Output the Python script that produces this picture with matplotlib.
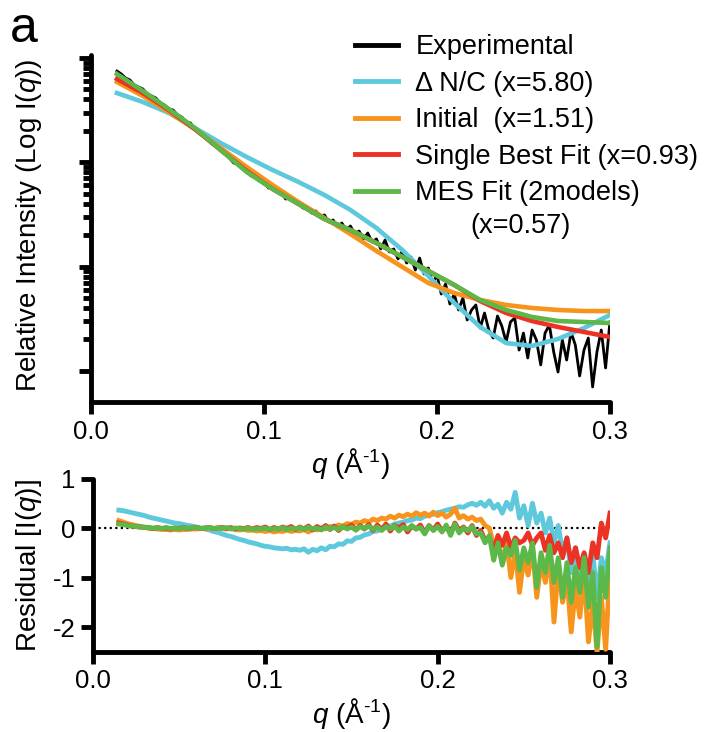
import numpy as np
import matplotlib
matplotlib.use("Agg")
import matplotlib.pyplot as plt
from matplotlib.ticker import FixedLocator, NullFormatter
from matplotlib.lines import Line2D

plt.rcParams['font.family'] = ['Liberation Sans', 'DejaVu Sans']
plt.rcParams['mathtext.fontset'] = 'custom'
plt.rcParams['mathtext.rm'] = 'Liberation Sans'
plt.rcParams['mathtext.it'] = 'Liberation Sans:italic'

# ---------------- data ----------------
# smooth model curves (log10 relative intensity)
q_fit = np.linspace(0.015, 0.3, 20)
log_nc = [-0.336, -0.422, -0.527, -0.671, -0.815, -0.949, -1.074, -1.189, -1.314, -1.457,
          -1.630, -1.841, -2.090, -2.349, -2.579, -2.733, -2.761, -2.694, -2.589, -2.464]
log_initial = [-0.230, -0.364, -0.518, -0.681, -0.863, -1.045, -1.218, -1.381, -1.534, -1.688,
               -1.850, -2.004, -2.157, -2.253, -2.320, -2.368, -2.397, -2.416, -2.426, -2.426]
log_single = [-0.201, -0.336, -0.499, -0.681, -0.882, -1.083, -1.256, -1.400, -1.544, -1.649,
              -1.774, -1.908, -2.042, -2.176, -2.330, -2.445, -2.522, -2.579, -2.627, -2.675]
log_mes = [-0.153, -0.316, -0.489, -0.671, -0.882, -1.093, -1.256, -1.400, -1.544, -1.649,
           -1.774, -1.908, -2.042, -2.176, -2.320, -2.416, -2.483, -2.522, -2.531, -2.541]

# experimental curve (log10 relative intensity)
q_exp = np.linspace(0.015, 0.3, 115)
log_exp = [-0.125, -0.153, -0.192, -0.211, -0.259, -0.278, -0.297, -0.345, -0.364, -0.384,
           -0.431, -0.451, -0.489, -0.499, -0.547, -0.566, -0.614, -0.623, -0.681, -0.700,
           -0.748, -0.767, -0.825, -0.844, -0.892, -0.901, -0.959, -1.007, -1.007, -1.064,
           -1.074, -1.131, -1.141, -1.179, -1.189, -1.246, -1.246, -1.285, -1.285, -1.352,
           -1.342, -1.381, -1.381, -1.438, -1.438, -1.486, -1.467, -1.515, -1.505, -1.572,
           -1.553, -1.620, -1.582, -1.649, -1.611, -1.688, -1.659, -1.735, -1.678, -1.764,
           -1.735, -1.831, -1.745, -1.860, -1.831, -1.927, -1.850, -1.966, -1.908, -2.033,
           -1.918, -2.071, -2.013, -2.157, -2.081, -2.263, -2.167, -2.359, -2.263, -2.416,
           -2.301, -2.512, -2.416, -2.368, -2.589, -2.445, -2.608, -2.685, -2.474, -2.570,
           -2.723, -2.531, -2.493, -2.800, -2.637, -2.876, -2.608, -2.704, -2.943, -2.637,
           -2.560, -2.819, -3.011, -2.704, -2.896, -2.627, -2.752, -3.049, -2.800, -2.685,
           -3.154, -2.819, -2.608, -2.972, -2.531]

# residuals
res_nc = [0.36, 0.35, 0.33, 0.31, 0.29, 0.27, 0.25, 0.22, 0.20, 0.18,
          0.16, 0.14, 0.12, 0.10, 0.09, 0.07, 0.05, 0.04, 0.02, 0.00,
          -0.02, -0.04, -0.07, -0.09, -0.12, -0.15, -0.17, -0.20, -0.23, -0.25,
          -0.28, -0.30, -0.32, -0.35, -0.37, -0.38, -0.40, -0.41, -0.42, -0.41,
          -0.44, -0.43, -0.45, -0.42, -0.49, -0.43, -0.46, -0.40, -0.44, -0.37,
          -0.38, -0.32, -0.33, -0.26, -0.27, -0.20, -0.19, -0.14, -0.12, -0.07,
          -0.06, -0.01, 0.02, 0.04, 0.08, 0.10, 0.12, 0.15, 0.16, 0.20,
          0.19, 0.24, 0.26, 0.28, 0.31, 0.33, 0.36, 0.38, 0.40, 0.43,
          0.42, 0.47, 0.50, 0.46, 0.52, 0.44, 0.55, 0.40, 0.48, 0.30,
          0.52, 0.38, 0.72, 0.20, 0.45, 0.05, 0.50, 0.10, 0.30, -0.10,
          0.20, -0.30, 0.05, -0.50, -0.20, -0.90, -0.40, -1.30, -0.70, -1.10,
          -0.50, -1.40, -0.60, -0.90, -0.30]
res_initial = [0.15, 0.12, 0.09, 0.07, 0.05, 0.03, 0.02, 0.00, -0.01, -0.02,
               -0.03, -0.03, -0.04, -0.03, -0.04, -0.03, -0.03, -0.02, -0.02, -0.01,
               -0.01, 0.00, -0.01, 0.00, -0.01, -0.02, -0.01, -0.03, -0.04, -0.03,
               -0.05, -0.04, -0.06, -0.05, -0.07, -0.05, -0.08, -0.06, -0.07, -0.04,
               -0.07, -0.05, -0.06, -0.03, -0.08, -0.02, -0.04, 0.00, -0.02, 0.03,
               0.01, 0.06, 0.04, 0.09, 0.07, 0.12, 0.10, 0.15, 0.12, 0.18,
               0.15, 0.20, 0.18, 0.24, 0.20, 0.26, 0.23, 0.28, 0.24, 0.31,
               0.26, 0.30, 0.24, 0.32, 0.25, 0.30, 0.22, 0.28, 0.40, 0.20,
               0.25, 0.18, 0.22, 0.15, 0.18, 0.05, 0.00, -0.35, -0.25, -0.70,
               -0.30, -1.00, -0.45, -1.30, -0.60, -0.95, -0.40, -1.40, -0.70, -1.10,
               -0.50, -1.90, -0.80, -1.50, -1.00, -2.10, -1.20, -1.80, -0.90, -2.30,
               -1.50, -2.50, -1.40, -2.45, -0.80]
res_single = [0.10, 0.08, 0.06, 0.04, 0.03, 0.02, 0.01, 0.00, -0.01, 0.01,
              -0.01, 0.00, -0.02, 0.00, -0.01, 0.01, -0.01, 0.00, 0.01, -0.01,
              0.00, 0.01, -0.01, 0.00, 0.01, -0.01, 0.01, -0.02, 0.00, -0.01,
              0.01, -0.02, 0.01, -0.01, 0.02, -0.03, 0.01, -0.02, 0.02, -0.01,
              0.03, -0.03, 0.02, -0.02, 0.04, -0.04, 0.03, -0.02, 0.05, -0.03,
              0.04, -0.05, 0.03, 0.00, 0.06, -0.04, 0.05, -0.02, 0.07, -0.05,
              0.06, -0.03, 0.08, -0.06, 0.05, 0.00, 0.07, -0.08, 0.04, -0.02,
              0.06, -0.10, 0.05, -0.04, 0.08, -0.06, 0.03, -0.12, 0.10, -0.05,
              0.02, -0.10, 0.05, -0.15, -0.05, -0.25, -0.20, -0.45, -0.15, -0.35,
              -0.10, -0.40, -0.20, -0.30, -0.25, -0.10, -0.35, -0.20, -0.10, -0.45,
              -0.15, -0.50, -0.30, -0.60, -0.20, -0.70, -0.40, -0.80, -0.50, -0.90,
              -0.30, -0.60, 0.10, -0.20, 0.30]
res_mes = [0.08, 0.07, 0.05, 0.04, 0.03, 0.02, 0.01, 0.01, 0.00, 0.00,
           -0.01, 0.01, -0.01, 0.00, -0.02, 0.01, -0.01, 0.00, 0.01, -0.01,
           0.00, 0.01, -0.01, 0.00, -0.01, 0.01, -0.02, 0.00, -0.01, -0.02,
           0.00, -0.03, -0.01, -0.02, 0.00, -0.03, -0.01, -0.02, 0.01, -0.03,
           0.00, -0.02, 0.01, -0.03, 0.02, -0.02, 0.00, -0.04, 0.02, -0.02,
           0.01, -0.03, 0.03, -0.02, 0.02, -0.04, 0.03, -0.01, 0.04, -0.03,
           0.02, -0.05, 0.03, -0.02, 0.04, -0.06, 0.02, -0.03, 0.05, -0.02,
           0.01, -0.12, 0.04, -0.05, 0.03, -0.08, 0.06, -0.15, 0.08, -0.10,
           0.00, -0.06, 0.03, -0.12, -0.10, -0.30, -0.15, -0.65, -0.30, -0.75,
           -0.40, -0.55, -0.25, -0.85, -0.40, -0.70, -0.30, -1.20, -0.50, -0.90,
           -0.35, -1.10, -0.60, -1.40, -0.70, -1.50, -0.80, -1.30, -0.60, -1.60,
           -0.90, -2.40, -0.80, -1.40, -0.40]

labels = ['Experimental', '\u0394 N/C (x=5.80)', 'Initial  (x=1.51)',
          'Single Best Fit (x=0.93)', 'MES Fit (2models)']
extra_label = '(x=0.57)'
x_ticks = [0.0, 0.1, 0.2, 0.3]
x_ticklabels = ['0.0', '0.1', '0.2', '0.3']
res_ticks = [1, 0, -1, -2]
res_ticklabels = ['1', '0', '-1', '-2']

# ---------------- style ----------------
C_EXP = 'black'
C_NC = '#5EC8DC'
C_INI = '#F7941D'
C_SGL = '#EC3224'
C_MES = '#5CB848'
SPW = 3.5
TICKFS = 18.5
LABFS = 20

fig = plt.figure(figsize=(7.06, 7.32), dpi=100)
ax1 = fig.add_axes([0.1289, 0.4508, 0.735, 0.4741])
ax2 = fig.add_axes([0.1317, 0.1096, 0.7323, 0.2367])

# top panel
ax1.plot(q_exp, 10 ** np.array(log_exp), color=C_EXP, lw=2.0, zorder=2)
ax1.plot(q_fit, 10 ** np.array(log_nc), color=C_NC, lw=3.3, zorder=3)
ax1.plot(q_fit, 10 ** np.array(log_initial), color=C_INI, lw=3.3, zorder=4)
ax1.plot(q_fit, 10 ** np.array(log_single), color=C_SGL, lw=3.3, zorder=5)
ax1.plot(q_fit, 10 ** np.array(log_mes), color=C_MES, lw=3.3, zorder=6)
ax1.set_yscale('log')
ax1.set_ylim(5.03e-4, 1.069)
ax1.set_xlim(0, 0.3)
ax1.yaxis.set_major_locator(FixedLocator([1e-3, 1e-2, 1e-1, 1.0]))
ax1.yaxis.set_minor_locator(FixedLocator([k * 10.0 ** e for e in (-3, -2, -1) for k in range(2, 10)]))
ax1.yaxis.set_major_formatter(NullFormatter())
ax1.yaxis.set_minor_formatter(NullFormatter())
ax1.set_xticks(x_ticks)
ax1.set_xticklabels(x_ticklabels)

# bottom panel
ax2.axhline(0, color='black', lw=1.6, ls=(0, (1, 1.5)), zorder=1)
ax2.plot(q_exp, res_nc, color=C_NC, lw=3.5, zorder=2)
ax2.plot(q_exp, res_initial, color=C_INI, lw=3.5, zorder=3)
ax2.plot(q_exp, res_single, color=C_SGL, lw=3.5, zorder=4)
ax2.plot(q_exp, res_mes, color=C_MES, lw=3.5, zorder=5)
ax2.set_xlim(0, 0.3)
ax2.set_ylim(-2.5, 1)
ax2.set_xticks(x_ticks)
ax2.set_xticklabels(x_ticklabels)
ax2.set_yticks(res_ticks)
ax2.set_yticklabels(res_ticklabels)

for ax in (ax1, ax2):
    for s in ('top', 'right'):
        ax.spines[s].set_visible(False)
    for s in ('left', 'bottom'):
        ax.spines[s].set_linewidth(SPW)
        ax.spines[s].set_capstyle('round')
    ax.tick_params(axis='both', which='major', length=8.6, width=SPW, direction='out',
                   labelsize=TICKFS, pad=4)
    ax.tick_params(axis='both', which='minor', length=5.5, width=SPW, direction='out')
    ax.set_xlabel(r'$q$ (Å$^{\text{-1}}$)', fontsize=LABFS, labelpad=2)

ax1.set_ylabel('Relative Intensity (Log I($q$))', fontsize=LABFS)
ax1.yaxis.set_label_coords(-0.09, 0.51)
ax2.set_ylabel('Residual [I($q$)]', fontsize=LABFS)
ax2.yaxis.set_label_coords(-0.095, 0.5)

# legend
handles = [Line2D([], [], color=c, lw=3.5) for c in (C_EXP, C_NC, C_INI, C_SGL, C_MES)]
fig.legend(handles, labels, loc='upper left', bbox_to_anchor=(355 / 706, 1 - 34 / 732),
           frameon=False, fontsize=19.5, handlelength=1.6, handletextpad=0.63,
           labelspacing=0.39, borderpad=0, borderaxespad=0)
fig.text(470 / 706, 1 - 226 / 732, extra_label, fontsize=19.5, va='center', ha='left')

fig.text(10 / 706, 1 - 42 / 732, 'a', fontsize=36, va='baseline', ha='left')

fig.savefig('out.png', dpi=100)
